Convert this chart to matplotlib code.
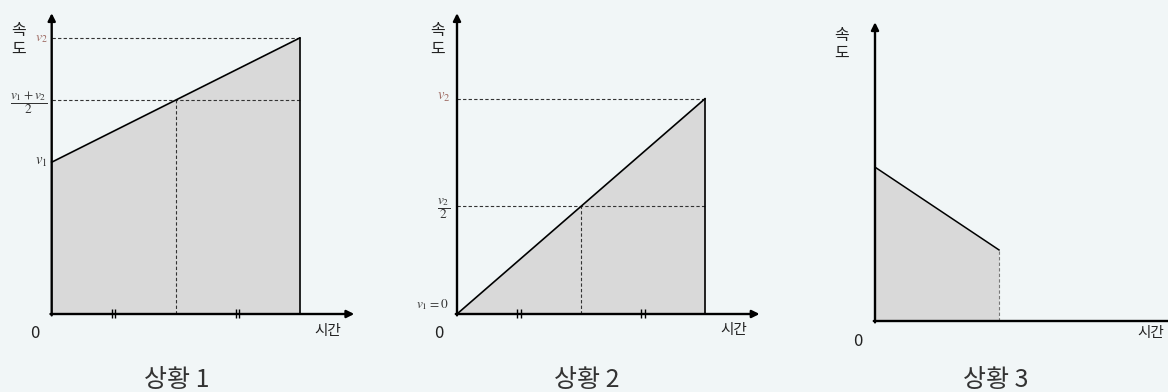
import matplotlib
matplotlib.use("Agg")
import matplotlib.pyplot as plt

plt.rcParams['font.family'] = ['Noto Sans CJK KR', 'DejaVu Sans']
plt.rcParams['mathtext.fontset'] = 'stix'

# ---- data (conceptual units: time, speed) ----
p1_time = [0, 2]
p1_speed = [2.2, 4.0]          # v1, v2
p1_mid_time = 1
p1_mid_speed = 3.1             # (v1+v2)/2
p1_ticks = [0.5, 1.5]

p2_time = [0, 2]
p2_speed = [0.0, 3.12]         # v1 = 0, v2
p2_mid_time = 1
p2_mid_speed = 1.56            # v2/2
p2_ticks = [0.5, 1.5]

p3_time = [0, 1]
p3_speed = [2.23, 1.03]

titles = ["상황 1", "상황 2", "상황 3"]

# ---- layout ----
W, H = 1168, 392
SX, SY = 124, 69               # pixels per unit
BG = '#F1F6F7'
FILL = '#D9D9D9'
DASH = (0, (3, 2))
VCOL = '#9E6B63'

fig = plt.figure(figsize=(W / 100, H / 100), dpi=100, facecolor=BG)


def panel_ax(ox, oy):
    ax = fig.add_axes([0, 0, 1, 1])
    ax.set_xlim(-ox / SX, (W - ox) / SX)
    ax.set_ylim(-(H - oy) / SY, oy / SY)
    ax.axis('off')
    ax.patch.set_alpha(0)
    return ax


def axes_arrows(ax, xlen, ylen):
    ap = dict(arrowstyle='-|>', lw=1.7, color='black', mutation_scale=11,
              shrinkA=0, shrinkB=0)
    ax.annotate('', xy=(xlen, 0), xytext=(-0.01, 0), arrowprops=ap,
                annotation_clip=False)
    ax.annotate('', xy=(0, ylen), xytext=(0, -0.02), arrowprops=ap,
                annotation_clip=False)


def tick_marks(ax, ticks):
    for t in ticks:
        ax.vlines([t - 0.013, t + 0.013], -0.06, 0.07, color='black', lw=1.0,
                  zorder=4)


def common_text(ax, zero_xy, time_xy, speed_xy, title_xy, title):
    ax.text(*zero_xy, '0', fontsize=12, color='#222', ha='center', va='center')
    ax.text(*time_xy, '시간', fontsize=10.5, color='#222', ha='center', va='center')
    ax.text(*speed_xy, '속\n도', fontsize=11.5, color='#222', ha='center',
            va='center', linespacing=1.1)
    ax.text(*title_xy, title, fontsize=18, color='#333', ha='center', va='center',
            fontweight='light')


# ---------------- panel 1 ----------------
ax1 = panel_ax(51.7, 314)
ax1.fill_between(p1_time, p1_speed, 0, color=FILL, lw=0, zorder=1)
ax1.plot(p1_time, p1_speed, color='black', lw=1.2, zorder=3)
ax1.plot([p1_time[-1], p1_time[-1]], [0, p1_speed[-1]], color='black', lw=1.2, zorder=3)
ax1.hlines([p1_speed[-1], p1_mid_speed], 0, p1_time[-1], color='#333', lw=0.8,
           linestyles=[DASH], zorder=2)
ax1.vlines(p1_mid_time, 0, p1_mid_speed, color='#333', lw=0.8, linestyles=[DASH], zorder=2)
axes_arrows(ax1, 2.44, 4.36)
tick_marks(ax1, p1_ticks)
ax1.text(-0.03, p1_speed[-1], r'$v_2$', fontsize=10, color=VCOL, ha='right', va='center')
ax1.text(-0.19, p1_mid_speed - 0.03, r'$\dfrac{v_1+v_2}{2}$', fontsize=9.5, color='#333',
         ha='center', va='center')
ax1.text(-0.03, p1_speed[0], r'$v_1$', fontsize=10.5, color='#333', ha='right', va='center')
common_text(ax1, (-0.135, -0.28), (2.23, -0.25), (-0.27, 3.97), (1.01, -0.96), titles[0])

# ---------------- panel 2 ----------------
ax2 = panel_ax(457, 314)
ax2.fill_between(p2_time, p2_speed, 0, color=FILL, lw=0, zorder=1)
ax2.plot(p2_time, p2_speed, color='black', lw=1.2, zorder=3)
ax2.plot([p2_time[-1], p2_time[-1]], [0, p2_speed[-1]], color='black', lw=1.2, zorder=3)
ax2.hlines([p2_speed[-1], p2_mid_speed], 0, p2_time[-1], color='#333', lw=0.8,
           linestyles=[DASH], zorder=2)
ax2.vlines(p2_mid_time, 0, p2_mid_speed, color='#333', lw=0.8, linestyles=[DASH], zorder=2)
axes_arrows(ax2, 2.44, 4.36)
tick_marks(ax2, p2_ticks)
ax2.text(-0.05, p2_speed[-1] + 0.02, r'$v_2$', fontsize=10.5, color=VCOL, ha='right', va='center')
ax2.text(-0.11, p2_mid_speed - 0.03, r'$\dfrac{v_2}{2}$', fontsize=9.5, color='#333',
         ha='center', va='center')
ax2.text(-0.07, p2_speed[0] + 0.13, r'$v_1=0$', fontsize=9.5, color='#333', ha='right', va='center')
common_text(ax2, (-0.145, -0.28), (2.23, -0.23), (-0.16, 3.97), (1.05, -0.96), titles[1])

# ---------------- panel 3 ----------------
ax3 = panel_ax(875, 321)
ax3.fill_between(p3_time, p3_speed, 0, color=FILL, lw=0, zorder=1)
ax3.plot(p3_time, p3_speed, color='black', lw=1.1, zorder=3)
ax3.vlines(p3_time[-1], 0, p3_speed[-1], color='#777', lw=0.8, linestyles=[DASH], zorder=2)
axes_arrows(ax3, 2.5, 4.33)
common_text(ax3, (-0.14, -0.30), (2.22, -0.17), (-0.27, 4.01), (0.97, -0.86), titles[2])

fig.savefig('out.png', dpi=100, facecolor=BG)
